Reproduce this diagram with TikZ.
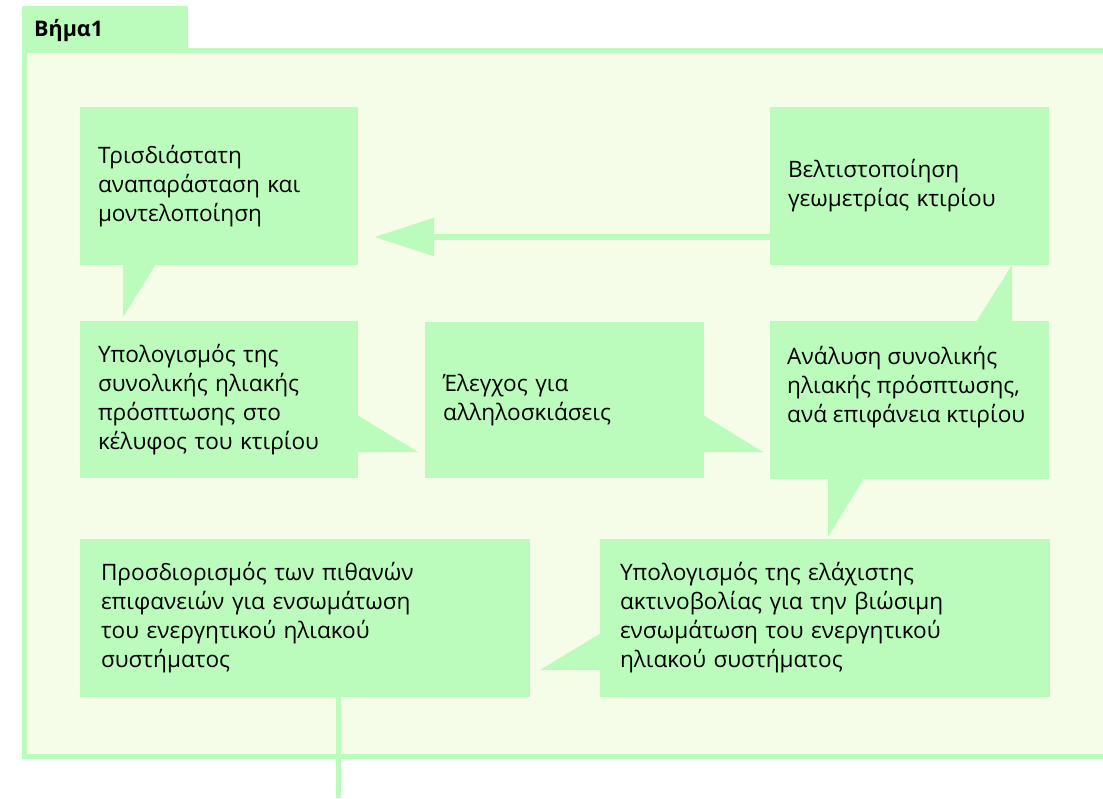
\documentclass[tikz,border=0pt]{standalone}
\usepackage{fontspec}
\setmainfont{Open Sans}
\usetikzlibrary{arrows.meta}
\definecolor{boxg}{RGB}{187,251,187}
\definecolor{paleg}{RGB}{245,253,233}
\begin{document}
\begin{tikzpicture}[x=1pt,y=-1pt,
  stepbox/.style={fill=boxg, draw=none, inner xsep=18pt, inner ysep=0pt, align=left,
    font=\fontsize{22.6}{29}\selectfont, text=black},
  plainbox/.style={fill=boxg, draw=none, inner sep=0pt, anchor=center},
  labeltext/.style={inner sep=0pt, align=left, font=\fontsize{22.6}{29}\selectfont, text=black},
  tail/.style={fill=boxg, draw=none},
  conn/.style={draw=boxg, line width=6pt}]
\useasboundingbox (0,0) rectangle (1103,798);
% frame
\fill[paleg] (22,48) rectangle (1110,759);
\fill[boxg] (22,6) rectangle (188,53);
\fill[boxg] (22,48) rectangle (1110,53);
\fill[boxg] (22,48) rectangle (27,759);
\fill[boxg] (22,754) rectangle (1110,759);
\node[anchor=base west, inner sep=0pt, font=\fontsize{21.5}{26}\selectfont\bfseries] (title) at (34,36) {Βήμα1};
% boxes
\node[stepbox, text width=242pt, minimum height=158pt] (b1) at (219,186) {Τρισδιάστατη\\αναπαράσταση και\\μοντελοποίηση};
\node[stepbox, text width=243pt, minimum height=158pt] (b2) at (909.5,186) {Βελτιστοποίηση\\γεωμετρίας κτιρίου};
\node[stepbox, text width=242pt, minimum height=157pt] (b3) at (219,399.5) {Υπολογισμός της\\συνολικής ηλιακής\\πρόσπτωσης στο\\κέλυφος του κτιρίου};
\node[stepbox, text width=243pt, minimum height=156pt] (b4) at (564.5,400) {Έλεγχος για\\αλληλοσκιάσεις};
\node[plainbox, minimum width=279pt, minimum height=158pt] (b5) at (909.5,400) {};
\node[labeltext, anchor=north west] (b5t) at (787,346) {Ανάλυση συνολικής\\ηλιακής πρόσπτωσης,\\ανά επιφάνεια κτιρίου};
\node[stepbox, text width=408pt, inner xsep=21pt, minimum height=158pt] (b6) at (305,618) {Προσδιορισμός των πιθανών\\επιφανειών για ενσωμάτωση\\του ενεργητικού ηλιακού\\συστήματος};
\node[stepbox, text width=410pt, inner xsep=20pt, minimum height=158pt] (b7) at (825,618) {Υπολογισμός της ελάχιστης\\ακτινοβολίας για την βιώσιμη\\ενσωμάτωση του ενεργητικού\\ηλιακού συστήματος};
% callout tails
\fill[tail] (123,264) -- (156,264) -- (123,317) -- cycle;
\fill[tail] (357,415) -- (357,452) -- (418,452) -- cycle;
\fill[tail] (703,415) -- (703,452) -- (763,452) -- cycle;
\fill[tail] (976,322) -- (1012,322) -- (1012,265) -- cycle;
\fill[tail] (828,478) -- (864,478) -- (828,537) -- cycle;
\fill[tail] (601,633) -- (601,670) -- (540,670) -- cycle;
% connectors
\draw[conn, -{Triangle[length=60pt 0 0, width=37pt 0 0]}, shorten >=16pt] (b2.west |- 0,237) -- (b1.east |- 0,237);
\coordinate (out) at (338.5,798);
\draw[draw=boxg, line width=5pt] (b6.south -| out) -- (out);
\end{tikzpicture}
\end{document}
